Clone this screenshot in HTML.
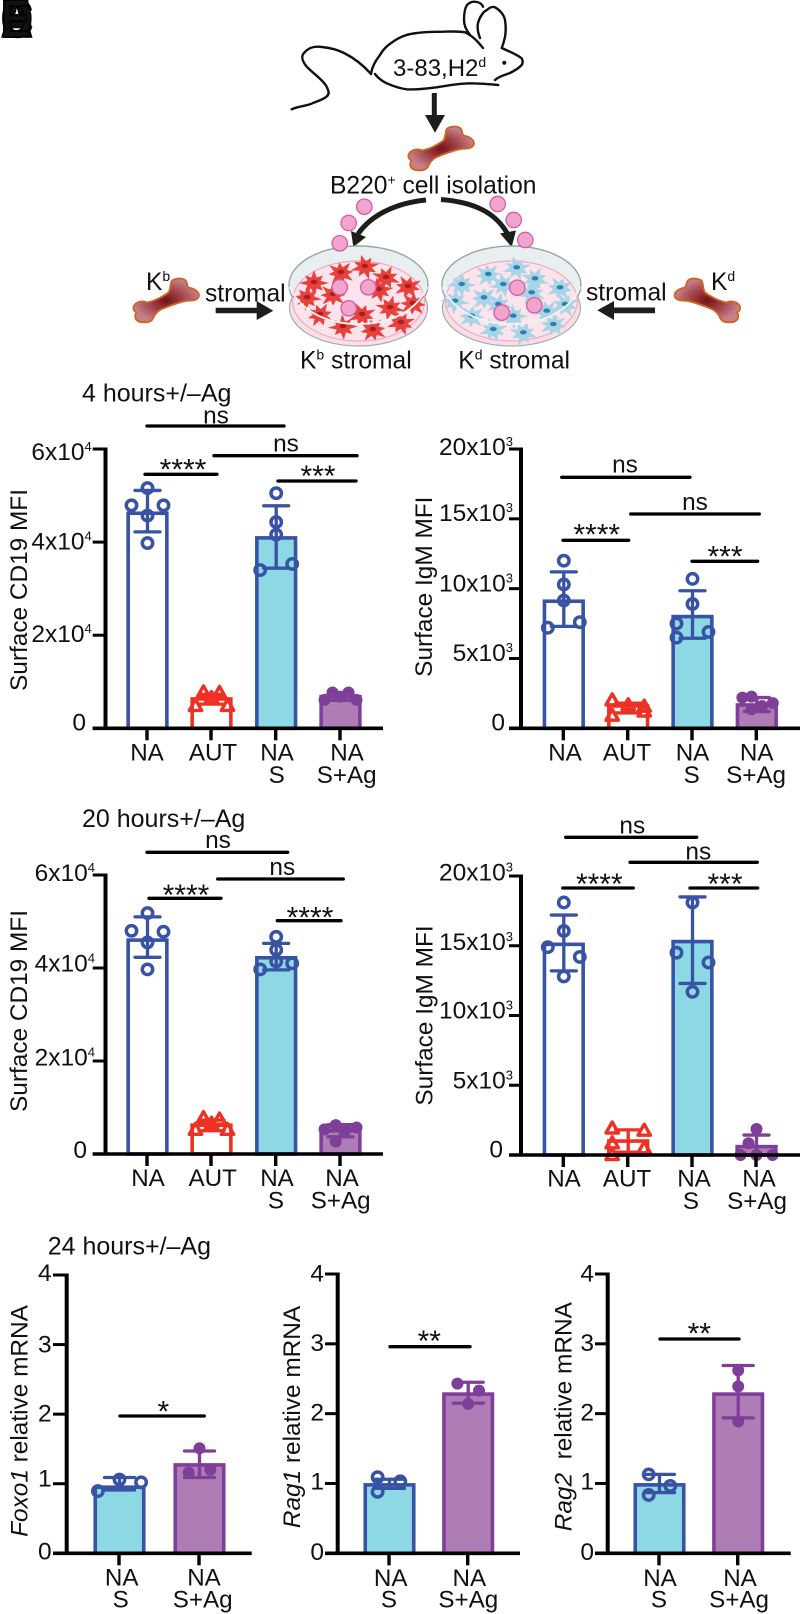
<!DOCTYPE html>
<html lang="en">
<head>
<meta charset="utf-8">
<title>B cell stromal culture figure</title>
<style>
html,body{margin:0;padding:0;background:#fff;}
svg{display:block;font-family:"Liberation Sans",Arial,sans-serif;}
text{fill:#111;}
</style>
</head>
<body>
<svg id="figure" xmlns="http://www.w3.org/2000/svg" width="800" height="1614" viewBox="0 0 800 1614">
  <defs>
    <radialGradient id="boneGrad" cx="50%" cy="50%" r="50%">
      <stop offset="0" stop-color="#741216"/>
      <stop offset="0.45" stop-color="#9c3c42"/>
      <stop offset="1" stop-color="#c48088"/>
    </radialGradient>
    <g id="bone">
      <path d="M-32.5 7 C-31 2 -24 0 -19 2.5 C-11 1 -2 -4 2.5 -7.5 C5 -11 4 -17 6 -19.5 C11 -22.5 18 -22 20 -19 C21.5 -16 21 -14 22.5 -12.5 C27 -11.5 32 -10 33 -5 C33 -1 29 1 21 0.7 C13 2 6 5 -4.3 9 C-9 11.5 -11 14 -12.5 17.5 C-14 21.5 -19 23 -26 22 C-31 20.5 -32 16 -29.5 12.5 C-32 11 -33 9 -32.5 7 Z" fill="url(#boneGrad)" stroke="#d4621e" stroke-width="1.8" stroke-linejoin="round"/>
    </g>
  </defs>

  <g font-weight="bold" font-size="54" stroke="#000" stroke-width="1.5" transform="scale(0.82,1)">
    <text x="1" y="37" fill="#000">A</text>
    <text x="1" y="37" fill="#000">B</text>
    <text x="1" y="37" fill="#000">C</text>
    <text x="1" y="37" fill="#000">D</text>
    <text x="1" y="37" fill="#000">E</text>
  </g>

  <g id="schematic">
    <g fill="none" stroke="#111" stroke-width="2.4" stroke-linecap="round" stroke-linejoin="round">
      <path d="M291.7 109.3 C298 106 308 106 313 103 C324 99 331 96 328 90 C326 82 316 76 307 67 C302 61 301 56 304 53 C309 47 315 46 322 47 C332 48 340 51 344 53 C354 58 364 66 371 74"/>
      <path d="M371 74 C372 66 376 60 380 55 C384 48 388 45 393 41.7 C401 36 408 34 417 33 C427 31.5 436 32 443 31.7 C452 31.5 459 31 465 32.3 C473 36 478 42 483 48"/>
      <path d="M470 35 C466 30 464 25 464 20 C464 13 465 8 467 5 C470 2 473 1.5 475 1.7 C479 2 482 4 483 6.7"/>
      <path d="M480 38 C478 33 477 28 478 23 C480 16 484 11 487 10 C490 7 493 6.5 495 7.3 C500 10 504 15 505 20 C506 26 506 31 505 37 C504 41 503 45 501.7 48 C508 51 516 54 521.7 58.3 C523 61 523 63 521.7 65 C518 69 514 71 510 73 C505 75 499 76 495 80"/>
      <path d="M375 74 C378 78 382 81 386.7 83.3 C393 86 400 88.5 406.7 89.3 C417 90 427 88.5 436.7 87.3 C447 85.5 459 83.5 470 83.3 C480 83.5 490 84 498.3 85"/>
    </g>
    <circle cx="504.3" cy="62.7" r="2" fill="#111"/>
    <text x="393" y="76" font-size="24">3-83,H2<tspan font-size="14" dy="-9">d</tspan></text>

    <g fill="#1d1d1b">
      <rect x="431.8" y="93" width="5" height="23"/>
      <path d="M425 115 L445 115 L435 132.7 Z"/>
    </g>
    <use href="#bone" x="441" y="148"/>
    <text x="330" y="193.3" font-size="24.6">B220<tspan font-size="14" dy="-9">+</tspan><tspan dy="9"> cell isolation</tspan></text>

    <g>
      <path d="M426 200 C396 203 371 215 358 234" fill="none" stroke="#1d1d1b" stroke-width="5"/>
      <path d="M351 231 L366 237 L353.3 247 Z" fill="#1d1d1b"/>
    </g>
    <g>
      <path d="M441 199.5 C473 202 495 212 507 233" fill="none" stroke="#1d1d1b" stroke-width="5"/>
      <path d="M500 233.5 L516 230.5 L511.7 247 Z" fill="#1d1d1b"/>
    </g>

    <g id="dish-left"></g>
    <g id="dish-right"></g>

    <g fill="#f0a5cd" stroke="#d85ba6" stroke-width="1.3">
      <circle cx="364.3" cy="206.7" r="7.7"/><circle cx="348.7" cy="223" r="7.7"/><circle cx="339.7" cy="243.3" r="7.7"/>
      <circle cx="497.7" cy="204" r="7.7"/><circle cx="513.7" cy="220" r="7.7"/><circle cx="525.3" cy="240" r="7.7"/>
      <circle cx="339.7" cy="287.3" r="7.7"/><circle cx="368.3" cy="287.3" r="7.7"/><circle cx="348.7" cy="308.3" r="7.7"/>
      <circle cx="517.3" cy="287.7" r="7.7"/><circle cx="534.3" cy="305.3" r="7.7"/><circle cx="501.7" cy="312.7" r="7.7"/>
    </g>

    <text x="146" y="290" font-size="24.6">K<tspan font-size="14" dy="-9">b</tspan></text>
    <use href="#bone" x="166" y="300"/>
    <text x="205" y="301.7" font-size="24.6">stromal</text>
    <path d="M215.7 307.7 H256.7 V301 L273.3 310.7 L256.7 320 V313.3 H215.7 Z" fill="#1d1d1b"/>
    <text x="300" y="368.3" font-size="24.6">K<tspan font-size="14" dy="-9">b</tspan><tspan dy="9"> stromal</tspan></text>

    <text x="711" y="290" font-size="24.6">K<tspan font-size="14" dy="-9">d</tspan></text>
    <use href="#bone" transform="translate(707.5,300) scale(-1,1)"/>
    <text x="586" y="300.7" font-size="24.6">stromal</text>
    <path d="M655 307.5 H614 V301 L597.3 310.3 L614 320 V313.3 H655 Z" fill="#1d1d1b"/>
    <text x="458.3" y="368.3" font-size="24.6">K<tspan font-size="14" dy="-9">d</tspan><tspan dy="9"> stromal</tspan></text>
  </g>

  <g id="charts"></g>
</svg>

<script>
/* ---------- chart data ---------- */
const groupLabels = [['NA'], ['AUT'], ['NA', 'S'], ['NA', 'S+Ag']];
const mrnaGroupLabels = [['NA', 'S'], ['NA', 'S+Ag']];

const cd19TickValues = [0, 20, 40, 60];
const cd19TickLabels = ['0', '2x10^4', '4x10^4', '6x10^4'];
const igmTickValues = [0, 5, 10, 15, 20];
const igmTickLabels = ['0', '5x10^3', '10x10^3', '15x10^3', '20x10^3'];
const mrnaTickValues = [0, 1, 2, 3, 4];
const mrnaTickLabels = ['0', '1', '2', '3', '4'];

const cd19At4hBars = [46.2, 6.3, 40.9, 6.8];
const cd19At4hErrHigh = [51.1, 7.3, 47.8, 7.5];
const cd19At4hErrLow = [42.2, 5.2, 34.4, 6.0];
const cd19At4hPoints = [[51.6, 47.9, 47.9, 45.7, 39.8], [7.7, 7.6, 4.8, 4.8, 6.5], [50.5, 44.3, 41.6, 34.0, 35.3], [7.7, 7.7, 6.1, 6.1, 6.8]];

const igmAt4hBars = [9.1, 1.6, 8.0, 1.67];
const igmAt4hErrHigh = [11.2, 1.8, 9.85, 2.2];
const igmAt4hErrLow = [7.3, 1.1, 6.45, 1.2];
const igmAt4hPoints = [[12.0, 10.3, 9.15, 7.2, 7.6], [2.0, 1.55, 1.65, 0.9, 1.2], [10.7, 8.9, 7.5, 6.5, 6.9], [2.2, 2.27, 1.8, 1.6, 1.36]];

const cd19At20hBars = [46.0, 6.2, 42.2, 5.0];
const cd19At20hErrHigh = [51.0, 7.3, 45.3, 6.3];
const cd19At20hErrLow = [42.3, 5.0, 39.6, 3.7];
const cd19At20hPoints = [[51.8, 48.0, 47.8, 45.5, 39.7], [7.7, 7.4, 5.2, 5.2, 6.5], [46.7, 43.9, 41.4, 39.7, 41.0], [6.2, 5.7, 5.3, 5.1, 2.7]];

const igmAt20hBars = [15.1, 1.0, 15.3, 0.6];
const igmAt20hErrHigh = [17.2, 1.8, 18.5, 1.43];
const igmAt20hErrLow = [13.2, 0.2, 12.3, 0];
const igmAt20hPoints = [[18.1, 16.06, 14.9, 14.2, 12.8], [1.9, 1.74, 0.84, 0.48, 0], [18.1, 14.5, 13.8, 11.7], [1.86, 0.84, 0, 0, 0]];

const foxo1Bars = [0.95, 1.27];
const foxo1ErrHigh = [1.09, 1.47];
const foxo1ErrLow = [0.91, 1.09];
const foxo1Points = [[0.895, 1.06, 1.02], [1.51, 1.16, 1.2]];

const rag1Bars = [0.98, 2.28];
const rag1ErrHigh = [1.06, 2.45];
const rag1ErrLow = [0.93, 2.15];
const rag1Points = [[1.09, 1.03, 0.88], [2.43, 2.33, 2.14]];

const rag2Bars = [0.98, 2.28];
const rag2ErrHigh = [1.13, 2.69];
const rag2ErrLow = [0.87, 1.94];
const rag2Points = [[1.13, 0.965, 0.835], [2.62, 2.39, 1.89]];

/* ---------- styling of each group ---------- */
const BLUE = '#3953a4', RED = '#ee3124', CYAN = '#8dd8e5', PURPLE = '#7f3f98', MAUVE = '#b07cb5';
const styleOpen = {stroke: BLUE, fill: '#fff', marker: 'circle'};
const styleAut = {stroke: RED, fill: '#fff', marker: 'triangle'};
const styleCyan = {stroke: BLUE, fill: CYAN, marker: 'circle'};
const stylePurple = {stroke: PURPLE, fill: MAUVE, marker: 'disc'};
const fourStyles = [styleOpen, styleAut, styleCyan, stylePurple];
const twoStyles = [styleCyan, stylePurple];

/* ---------- chart layouts (geometry only, no data) ---------- */
const chartSpecs = [
  {name: 'cd19-4h', title: '4 hours+/\u2013Ag', titleX: 82, titleY: 401.7,
   yTitle: [['Surface CD19 MFI', false]], yTitleX: 27, yTitleY: 590,
   axisX: 105.5, axisEnd: 383, axisStart: 92.7, y0: 728.3, yTop: 449, yMax: 60, tickTop: 0,
   ticks: cd19TickValues, tickLabels: cd19TickLabels, labelRight: 91.7, zeroRight: 86, labelDy: [2.4, 7, 7.3, 11],
   bars: cd19At4hBars, hi: cd19At4hErrHigh, lo: cd19At4hErrLow, points: cd19At4hPoints,
   slots: [[0, -1, 1, 0, 0], [-0.5, 0.5, -1, 1, 0], [0, 0, 0, -1, 1], [-0.5, 0.5, -1, 1, 0]], slotPx: 16,
   tickX: [147, 211, 275.7, 340], barW: 38.7, capW: 25, styles: fourStyles, groups: groupLabels,
   labelX: [[147], [213], [277, 276.7], [347, 346.7]], labelY: [760.7, 783],
   sig: [['ns', 147, 284, 426, 216, 423.3], ['ns', 214, 357, 455.7, 286, 451.7], ['****', 145, 217, 474.3, 183, 466], ['***', 278, 356, 481, 318, 472.7]]},
  {name: 'igm-4h', title: '', yTitle: [['Surface IgM MFI', false]], yTitleX: 432, yTitleY: 586.7,
   axisX: 521, axisEnd: 800, axisStart: 509, y0: 728.3, yTop: 449, yMax: 20,
   ticks: igmTickValues, tickLabels: igmTickLabels, labelRight: 513, zeroRight: 505, labelDy: [2, 2.7, 3, 2.3, 6],
   bars: igmAt4hBars, hi: igmAt4hErrHigh, lo: igmAt4hErrLow, points: igmAt4hPoints,
   slots: [[0, 0, 0, -1, 1], [-1, 1, 0, -1, 1], [0, 0, -1, -1, 1], [-0.9, -0.33, 1, 0.33, -0.33]], slotPx: 16,
   tickX: [563.3, 627.7, 692, 756.3], barW: 38.7, capW: 25, styles: fourStyles, groups: groupLabels,
   labelX: [[565], [627], [692.5, 691.7], [756.7, 756]], labelY: [760.7, 783],
   sig: [['ns', 561.7, 690, 477.3, 625, 472.3], ['ns', 630.7, 759.3, 514, 695, 510], ['****', 563, 628.7, 540.3, 596.7, 531], ['***', 692, 757.7, 561.3, 725, 553]]},
  {name: 'cd19-20h', title: '20 hours+/\u2013Ag', titleX: 82, titleY: 827,
   yTitle: [['Surface CD19 MFI', false]], yTitleX: 27, yTitleY: 1011,
   axisX: 105.5, axisEnd: 383, axisStart: 92.7, y0: 1154, yTop: 875, yMax: 60,
   ticks: cd19TickValues, tickLabels: cd19TickLabels, labelRight: 95, zeroRight: 87, labelDy: [4, 4.3, 3.7, 6],
   bars: cd19At20hBars, hi: cd19At20hErrHigh, lo: cd19At20hErrLow, points: cd19At20hPoints,
   slots: [[0, -1, 1, 0, 0], [-0.5, 0.5, -1, 1, 0], [0, 0, 0, -1, 1], [-0.3, 1, -1, 0.3, -0.3]], slotPx: 16,
   tickX: [147, 211, 275.7, 340], barW: 38.7, capW: 25, styles: fourStyles, groups: groupLabels,
   labelX: [[148], [212.7], [277, 276], [342, 340.7]], labelY: [1186, 1208.3],
   sig: [['ns', 147, 287.7, 852.3, 218, 848], ['ns', 217.7, 343.3, 879, 282.3, 875], ['****', 149, 221, 898.3, 186, 891.7], ['****', 277.3, 341, 920.7, 310, 914]]},
  {name: 'igm-20h', title: '', yTitle: [['Surface IgM MFI', false]], yTitleX: 432.3, yTitleY: 1015.5,
   axisX: 521, axisEnd: 800, axisStart: 509, y0: 1155, yTop: 876, yMax: 20,
   ticks: igmTickValues, tickLabels: igmTickLabels, labelRight: 513, zeroRight: 503, labelDy: [2.7, 3, 3, 4, 4.7],
   bars: igmAt20hBars, hi: igmAt20hErrHigh, lo: igmAt20hErrLow, points: igmAt20hPoints,
   slots: [[0, 0, -1, 1, 0], [-1, 1, -1, 1, -1], [0, -1, 1, 0], [0, -0.5, -1, 0, 1]], slotPx: 16,
   tickX: [563.3, 627.7, 692, 756], barW: 38.7, capW: 25, styles: fourStyles, groups: groupLabels,
   labelX: [[564], [627], [694, 691], [759, 757]], labelY: [1186.7, 1209],
   sig: [['ns', 565.7, 696.7, 837.3, 632.3, 833.3], ['ns', 630, 757.3, 862.3, 698.3, 859.3], ['****', 562.7, 633.3, 888, 599.3, 880.7], ['***', 690, 757.7, 888, 725, 880.7]]},
  {name: 'foxo1', title: '24 hours+/\u2013Ag', titleX: 47.7, titleY: 1254.3,
   yTitle: [['Foxo1', true], [' relative mRNA', false]], yTitleX: 27.7, yTitleY: 1421,
   axisX: 66.7, axisEnd: 251.7, axisStart: 53, y0: 1553.3, yTop: 1275, yMax: 4,
   ticks: mrnaTickValues, tickLabels: mrnaTickLabels, labelRight: 51.7, zeroRight: 51.7, labelDy: [6, 3, 7.4, 7.7, 6],
   bars: foxo1Bars, hi: foxo1ErrHigh, lo: foxo1ErrLow, points: foxo1Points,
   slots: [[-1, 0, 1], [0, -0.5, 0.5]], slotPx: 21.6,
   tickX: [119, 199], barW: 48.5, capW: 30, styles: twoStyles, groups: mrnaGroupLabels,
   labelX: [[121.7, 120.7], [204, 202.7]], labelY: [1585.7, 1607.3],
   sig: [['*', 120, 204.3, 1416, 163.3, 1408]]},
  {name: 'rag1', title: '', yTitle: [['Rag1', true], [' relative mRNA', false]], yTitleX: 300, yTitleY: 1417,
   axisX: 337.7, axisEnd: 520, axisStart: 325, y0: 1553.3, yTop: 1274, yMax: 4,
   ticks: mrnaTickValues, tickLabels: mrnaTickLabels, labelRight: 324, zeroRight: 324, labelDy: [6.7, 6, 7, 7, 7.7],
   bars: rag1Bars, hi: rag1ErrHigh, lo: rag1ErrLow, points: rag1Points,
   slots: [[-0.55, 0.5, -0.55], [-0.5, 0.5, 0]], slotPx: 21.6,
   tickX: [389, 467.7], barW: 48.5, capW: 30, styles: twoStyles, groups: mrnaGroupLabels,
   labelX: [[390.7, 389], [469.3, 468.3]], labelY: [1586, 1607.3],
   sig: [['**', 390, 470, 1346.7, 429.3, 1337.7]]},
  {name: 'rag2', title: '', yTitle: [['Rag2', true], ['  relative mRNA', false]], yTitleX: 571.7, yTitleY: 1416.7,
   axisX: 607.7, axisEnd: 790.7, axisStart: 595, y0: 1553.3, yTop: 1274, yMax: 4,
   ticks: mrnaTickValues, tickLabels: mrnaTickLabels, labelRight: 594, zeroRight: 594, labelDy: [6.7, 6, 7, 7, 7.7],
   bars: rag2Bars, hi: rag2ErrHigh, lo: rag2ErrLow, points: rag2Points,
   slots: [[-0.5, 0.5, -0.5], [0, 0, 0]], slotPx: 21.6,
   tickX: [659, 737.7], barW: 48.5, capW: 30, styles: twoStyles, groups: mrnaGroupLabels,
   labelX: [[660, 659], [740, 739]], labelY: [1586, 1607.3],
   sig: [['**', 660, 739, 1339, 699.3, 1330]]}
];

const SVGNS = 'http://www.w3.org/2000/svg';
function mk(parent, tag, attrs, text) {
  const el = document.createElementNS(SVGNS, tag);
  for (const k in attrs) el.setAttribute(k, attrs[k]);
  if (text !== undefined) el.textContent = text;
  parent.appendChild(el);
  return el;
}

function drawChart(spec) {
  const root = mk(document.getElementById('charts'), 'g', {});
  
  
  const yScale = v => spec.y0 - (v / spec.yMax) * (spec.y0 - spec.yTop);

  if (spec.title) {
    const t = mk(root, 'text', {x: spec.titleX, y: spec.titleY, 'font-size': 25}, spec.title);
    
    
  }

  const yt = mk(root, 'text', {transform: 'translate(' + spec.yTitleX + ',' + spec.yTitleY + ') rotate(-90)', 'text-anchor': 'middle', 'font-size': 24.4, style: 'white-space:pre'});
  
  
  spec.yTitle.forEach(part => {
    mk(yt, 'tspan', part[1] ? {'font-style': 'italic'} : {}, part[0]);
  });

  spec.bars.forEach((v, i) => {
    const st = spec.styles[i];
    const top = yScale(v);
    const bar = mk(root, 'rect', {x: spec.tickX[i] - spec.barW / 2 + 0.5, y: top, width: spec.barW, height: spec.y0 - top, fill: st.fill, stroke: st.stroke, 'stroke-width': 3.6});
    
    
  });

  spec.bars.forEach((v, i) => {
    const st = spec.styles[i];
    const cx = spec.tickX[i] + 0.5;
    const hiY = yScale(spec.hi[i]);
    const loY = yScale(spec.lo[i]);
    const err = mk(root, 'path', {d: 'M' + cx + ' ' + hiY + 'V' + loY + 'M' + (cx - spec.capW / 2) + ' ' + hiY + 'h' + spec.capW + 'M' + (cx - spec.capW / 2) + ' ' + loY + 'h' + spec.capW, fill: 'none', stroke: st.stroke, 'stroke-width': 3.3, 'stroke-linecap': 'round'});
    
    
    spec.points[i].forEach((p, j) => {
      const px = cx + spec.slots[i][j] * spec.slotPx;
      const py = yScale(p);
      let mark;
      if (st.marker === 'triangle') {
        mark = mk(root, 'path', {d: 'M' + px + ' ' + (py - 6.5) + 'L' + (px + 6.2) + ' ' + (py + 4.5) + 'H' + (px - 6.2) + 'Z', fill: 'none', stroke: st.stroke, 'stroke-width': 3.4, 'stroke-linejoin': 'round'});
      } else if (st.marker === 'disc') {
        mark = mk(root, 'circle', {cx: px, cy: py, r: 6, fill: st.stroke});
      } else {
        mark = mk(root, 'circle', {cx: px, cy: py, r: 5.2, fill: 'none', stroke: st.stroke, 'stroke-width': 3.5});
      }
      
      
    });
  });

  const yAxis = mk(root, 'line', {x1: spec.axisX, x2: spec.axisX, y1: spec.yTop - 1.5, y2: spec.y0, stroke: '#000', 'stroke-width': 4});
  
  
  const xAxis = mk(root, 'line', {x1: spec.axisStart, x2: spec.axisEnd, y1: spec.y0, y2: spec.y0, stroke: '#000', 'stroke-width': 3.6});
  
  

  spec.ticks.forEach((v, i) => {
    const ty = yScale(v);
    const tick = mk(root, 'line', {x1: spec.axisStart, x2: spec.axisX, y1: ty, y2: ty, stroke: '#000', 'stroke-width': 3});
    
    
    const parts = spec.tickLabels[i].split('^');
    const right = parts.length > 1 ? spec.labelRight : spec.zeroRight;
    const lab = mk(root, 'text', {x: right, y: ty + spec.labelDy[i], 'text-anchor': 'end', 'font-size': 24.5}, parts[0]);
    
    
    if (parts.length > 1) {
      mk(lab, 'tspan', {'font-size': 13, dy: -9}, parts[1]);
    }
  });

  spec.tickX.forEach((x, i) => {
    const tick = mk(root, 'line', {x1: x, x2: x, y1: spec.y0, y2: spec.y0 + 12, stroke: '#000', 'stroke-width': 3.4});
    
    
    spec.groups[i].forEach((line, k) => {
      const lab = mk(root, 'text', {x: spec.labelX[i][k], y: spec.labelY[k], 'text-anchor': 'middle', 'font-size': 24.2}, line);
      
      
    });
  });

  spec.sig.forEach(s => {
    const line = mk(root, 'line', {x1: s[1], x2: s[2], y1: s[3], y2: s[3], stroke: '#000', 'stroke-width': 3.3, 'stroke-linecap': 'round'});
    
    
    const stars = s[0] !== 'ns';
    const lab = mk(root, 'text', {x: s[4], y: stars ? s[5] + 13.5 : s[5], 'text-anchor': 'middle', 'font-size': stars ? 30 : 24.4}, s[0]);
    
    
  });
}
chartSpecs.forEach(drawChart);

/* ---------- schematic petri dishes ---------- */
const dishLeftStars = [[314,283],[341,273],[365,267],[386,278],[408,287],[307,298],[333,295],[379,290],[320,315],[362,315],[390,308],[413,304],[343,327],[373,330],[401,323]];
const dishRightStars = [[461.7,285],[488.3,275],[516.7,268.3],[535,279.3],[560,288.3],[455,301.7],[484,298.3],[503.3,285],[531.7,293.3],[565,305],[498.3,305],[471.7,316.7],[513.3,316.7],[546.7,311.7],[493.3,330],[523.3,333.3],[553.3,325]];

function starPath(cx, cy, rot) {
  let d = '';
  const n = 8;
  for (let i = 0; i < n * 2; i++) {
    const rad = i % 2 ? 7 : (i % 4 ? 12.5 : 15);
    const a = rot + i * Math.PI / n;
    d += (i ? 'L' : 'M') + (cx + rad * Math.cos(a)).toFixed(1) + ' ' + (cy + rad * 0.85 * Math.sin(a)).toFixed(1);
  }
  return d + 'Z';
}

function drawDish(id, cx, stars, color, nucleus) {
  const g = document.getElementById(id);
  const base = mk(g, 'ellipse', {cx: cx, cy: 308, rx: 69, ry: 38, fill: '#fbdde8', stroke: '#9db0ae', 'stroke-width': 1.2});
  
  
  const lid = mk(g, 'ellipse', {cx: cx, cy: 285, rx: 69.5, ry: 39, fill: '#e9eff1', stroke: '#97a5a6', 'stroke-width': 1.4});
  
  
  const media = mk(g, 'ellipse', {cx: cx, cy: 301, rx: 66, ry: 40, fill: '#fde3ec', stroke: '#f2a9c0', 'stroke-width': 1.2});
  
  
  stars.forEach((s, i) => {
    const star = mk(g, 'path', {d: starPath(s[0], s[1], i * 0.65), fill: color});
    
    
    const nuc = mk(g, 'ellipse', {cx: s[0], cy: s[1] - 1, rx: 3.4, ry: 2.2, fill: nucleus});
    
    
  });
  const rim = mk(g, 'path', {d: 'M' + (cx - 69) + ' 287 C' + (cx - 55) + ' 316 ' + (cx - 25) + ' 324 ' + cx + ' 324 C' + (cx + 25) + ' 324 ' + (cx + 55) + ' 316 ' + (cx + 69) + ' 287', fill: 'none', stroke: '#eef3f4', 'stroke-width': 1.8});
  
  
}
drawDish('dish-left', 358.5, dishLeftStars, '#e8413c', '#a81e22');
drawDish('dish-right', 511.4, dishRightStars, '#a7d5e6', '#2f7fb5');
</script>
</body>
</html>
